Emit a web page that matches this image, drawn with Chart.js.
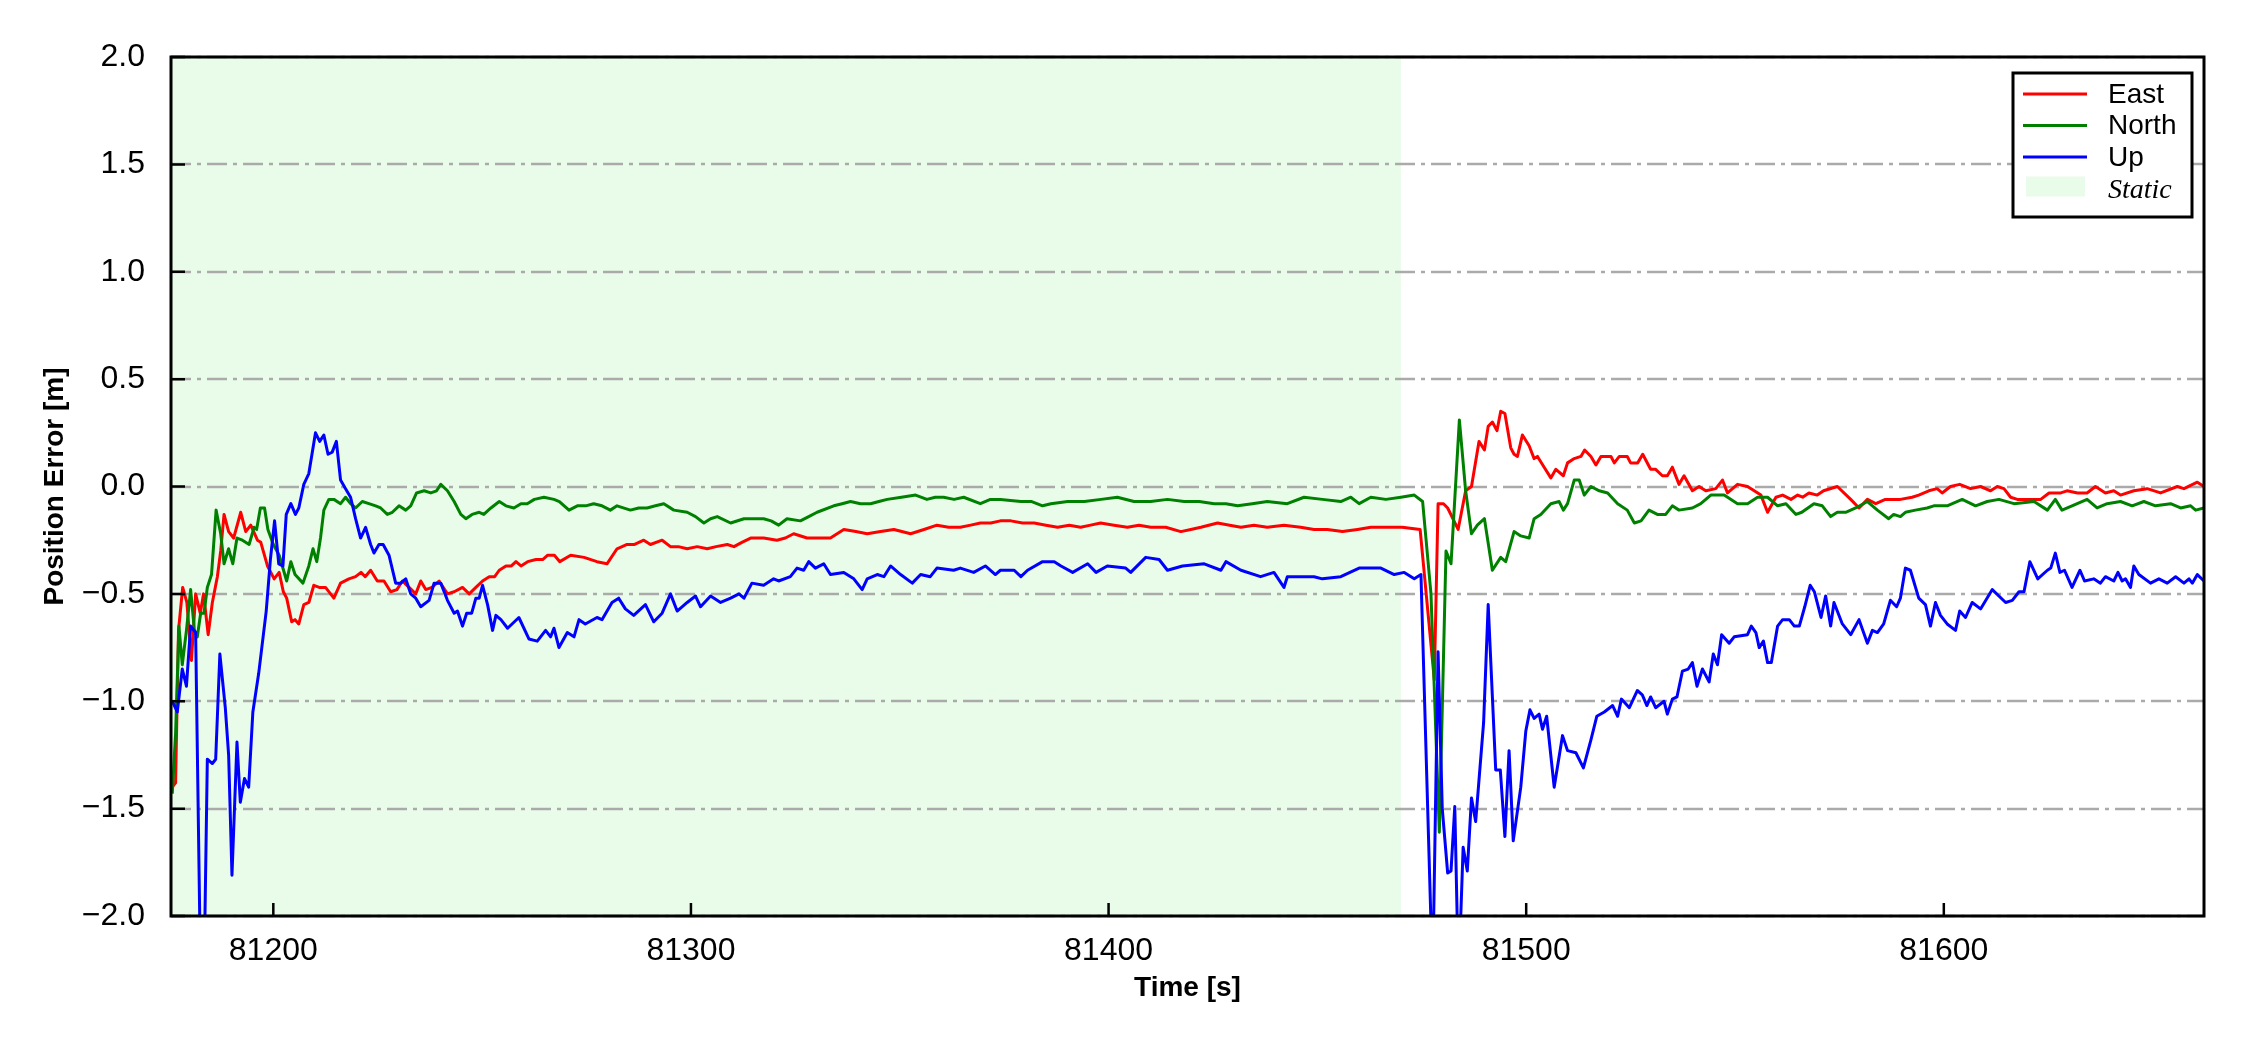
<!DOCTYPE html>
<html>
<head>
<meta charset="utf-8">
<script src="https://cdn.jsdelivr.net/npm/chart.js@4.4.0/dist/chart.umd.min.js"></script>
<style>
  html, body { margin: 0; padding: 0; background: #fff; }
  canvas { display: block; }
</style>
</head>
<body>
<canvas id="errorChart" width="2250" height="1050"></canvas>
<script>
// position error [m] vs time [s] as [time, error]
const eastError = [[81175.8,-1.40],[81176.6,-1.38],[81177.3,-0.67],[81178.3,-0.47],[81179.3,-0.54],[81180.4,-0.81],[81181.4,-0.50],[81182.5,-0.59],[81183.3,-0.50],[81184.4,-0.69],[81185.4,-0.54],[81186.6,-0.42],[81187.4,-0.30],[81188.2,-0.13],[81189.3,-0.21],[81190.5,-0.24],[81192.2,-0.12],[81193.4,-0.21],[81194.6,-0.18],[81196.2,-0.25],[81197.0,-0.26],[81198.6,-0.37],[81200.2,-0.43],[81201.4,-0.40],[81202.4,-0.49],[81203.2,-0.52],[81204.4,-0.63],[81205.2,-0.62],[81206.1,-0.64],[81207.3,-0.55],[81208.5,-0.54],[81209.7,-0.46],[81211.0,-0.47],[81212.5,-0.47],[81214.5,-0.52],[81216.1,-0.45],[81218.1,-0.43],[81219.7,-0.42],[81221.0,-0.40],[81222.0,-0.42],[81223.3,-0.39],[81224.9,-0.44],[81226.5,-0.44],[81228.1,-0.49],[81229.6,-0.48],[81230.9,-0.44],[81232.5,-0.47],[81234.1,-0.50],[81235.3,-0.44],[81236.5,-0.48],[81238.0,-0.47],[81239.7,-0.44],[81241.7,-0.50],[81243.3,-0.49],[81245.3,-0.47],[81246.9,-0.50],[81248.5,-0.47],[81250.1,-0.44],[81251.7,-0.42],[81253.0,-0.42],[81254.1,-0.39],[81255.7,-0.37],[81257.0,-0.37],[81258.1,-0.35],[81259.3,-0.37],[81260.9,-0.35],[81262.9,-0.34],[81264.5,-0.34],[81265.7,-0.32],[81267.3,-0.32],[81268.6,-0.35],[81271.2,-0.32],[81274.4,-0.33],[81277.5,-0.35],[81279.9,-0.36],[81282.3,-0.29],[81284.7,-0.27],[81286.5,-0.27],[81288.7,-0.25],[81290.3,-0.27],[81293.1,-0.25],[81295.1,-0.28],[81297.0,-0.28],[81299.1,-0.29],[81301.5,-0.28],[81303.9,-0.29],[81306.0,-0.28],[81308.7,-0.27],[81310.3,-0.28],[81312.2,-0.26],[81314.3,-0.24],[81317.4,-0.24],[81320.6,-0.25],[81322.6,-0.24],[81324.6,-0.22],[81327.8,-0.24],[81330.5,-0.24],[81333.4,-0.24],[81336.6,-0.20],[81339.5,-0.21],[81342.2,-0.22],[81345.4,-0.21],[81348.6,-0.20],[81352.6,-0.22],[81355.8,-0.20],[81358.9,-0.18],[81361.7,-0.19],[81364.5,-0.19],[81367.0,-0.18],[81369.3,-0.17],[81371.8,-0.17],[81374.1,-0.16],[81376.6,-0.16],[81379.4,-0.17],[81382.2,-0.17],[81385.0,-0.18],[81387.8,-0.19],[81390.6,-0.18],[81393.3,-0.19],[81395.7,-0.18],[81398.1,-0.17],[81401.3,-0.18],[81404.5,-0.19],[81407.3,-0.18],[81410.1,-0.19],[81413.7,-0.19],[81417.3,-0.21],[81419.7,-0.20],[81422.1,-0.19],[81426.1,-0.17],[81429.0,-0.18],[81431.7,-0.19],[81434.8,-0.18],[81438.0,-0.19],[81442.0,-0.18],[81446.0,-0.19],[81449.2,-0.20],[81452.4,-0.20],[81456.0,-0.21],[81459.6,-0.20],[81462.8,-0.19],[81466.0,-0.19],[81470.3,-0.19],[81474.6,-0.20],[81478.0,-0.90],[81478.9,-0.08],[81480.2,-0.08],[81481.2,-0.10],[81483.7,-0.20],[81485.5,-0.02],[81486.9,0.00],[81488.7,0.21],[81490.0,0.17],[81490.9,0.28],[81491.9,0.30],[81493.0,0.26],[81493.9,0.35],[81494.9,0.34],[81496.3,0.18],[81497.1,0.15],[81497.9,0.14],[81499.1,0.24],[81500.7,0.19],[81501.9,0.13],[81502.7,0.14],[81504.3,0.09],[81505.9,0.04],[81507.1,0.08],[81508.9,0.05],[81509.9,0.11],[81511.5,0.13],[81513.1,0.14],[81514.0,0.17],[81515.5,0.14],[81516.7,0.10],[81517.9,0.14],[81520.3,0.14],[81521.1,0.11],[81522.3,0.14],[81524.2,0.14],[81525.0,0.11],[81526.7,0.11],[81527.9,0.15],[81529.8,0.08],[81531.0,0.08],[81532.6,0.05],[81533.8,0.05],[81535.0,0.09],[81536.6,0.01],[81537.8,0.05],[81539.8,-0.02],[81541.4,0.00],[81543.0,-0.02],[81545.4,-0.01],[81547.0,0.03],[81548.2,-0.03],[81550.6,0.01],[81553.0,0.00],[81554.6,-0.02],[81556.2,-0.04],[81557.8,-0.12],[81559.8,-0.05],[81561.4,-0.04],[81563.4,-0.06],[81565.0,-0.04],[81566.2,-0.05],[81567.7,-0.03],[81569.7,-0.04],[81571.2,-0.02],[81574.5,0.00],[81577.7,-0.06],[81579.7,-0.10],[81581.7,-0.06],[81583.7,-0.08],[81586.0,-0.06],[81589.6,-0.06],[81592.4,-0.05],[81594.0,-0.04],[81596.4,-0.02],[81598.4,-0.01],[81599.6,-0.03],[81601.6,0.00],[81603.8,0.01],[81606.4,-0.01],[81608.8,0.00],[81611.2,-0.02],[81612.8,0.00],[81614.4,-0.01],[81616.0,-0.05],[81617.6,-0.06],[81620.8,-0.06],[81623.2,-0.06],[81625.2,-0.03],[81628.0,-0.03],[81629.5,-0.02],[81632.0,-0.03],[81634.3,-0.03],[81636.3,0.00],[81638.7,-0.03],[81640.7,-0.02],[81642.3,-0.04],[81645.5,-0.02],[81648.7,-0.01],[81651.9,-0.03],[81655.9,0.00],[81657.5,-0.01],[81660.7,0.02],[81662.3,0.00]];

const northError = [[81175.8,-1.43],[81176.6,-1.15],[81177.4,-0.65],[81178.2,-0.83],[81179.2,-0.67],[81180.2,-0.48],[81181.1,-0.67],[81181.8,-0.70],[81182.6,-0.59],[81183.4,-0.59],[81184.2,-0.47],[81185.2,-0.41],[81186.3,-0.11],[81187.4,-0.22],[81188.2,-0.36],[81189.3,-0.29],[81190.3,-0.36],[81191.3,-0.24],[81192.6,-0.25],[81194.2,-0.27],[81195.4,-0.19],[81196.0,-0.20],[81196.9,-0.10],[81197.9,-0.10],[81198.7,-0.20],[81200.0,-0.27],[81201.4,-0.32],[81203.2,-0.44],[81204.2,-0.35],[81205.2,-0.41],[81207.1,-0.45],[81208.5,-0.37],[81209.5,-0.29],[81210.4,-0.35],[81211.3,-0.24],[81212.1,-0.11],[81213.3,-0.06],[81214.5,-0.06],[81216.1,-0.08],[81217.3,-0.05],[81218.5,-0.08],[81219.7,-0.10],[81221.3,-0.07],[81222.9,-0.08],[81224.5,-0.09],[81225.7,-0.10],[81227.3,-0.13],[81228.5,-0.12],[81230.1,-0.09],[81231.7,-0.11],[81232.9,-0.09],[81234.3,-0.03],[81236.1,-0.02],[81237.7,-0.03],[81239.1,-0.02],[81240.1,0.01],[81241.7,-0.02],[81243.3,-0.07],[81244.9,-0.13],[81246.1,-0.15],[81247.6,-0.13],[81249.3,-0.12],[81250.4,-0.13],[81252.1,-0.10],[81254.1,-0.07],[81255.7,-0.09],[81257.6,-0.10],[81259.3,-0.08],[81260.8,-0.08],[81262.5,-0.06],[81264.8,-0.05],[81267.2,-0.06],[81268.5,-0.07],[81270.8,-0.11],[81272.8,-0.09],[81274.8,-0.09],[81276.7,-0.08],[81278.7,-0.09],[81280.7,-0.11],[81282.3,-0.09],[81285.5,-0.11],[81287.5,-0.10],[81289.5,-0.10],[81291.5,-0.09],[81293.5,-0.08],[81295.9,-0.11],[81299.1,-0.12],[81301.1,-0.14],[81303.1,-0.17],[81304.7,-0.15],[81306.3,-0.14],[81309.5,-0.17],[81312.7,-0.15],[81315.0,-0.15],[81317.4,-0.15],[81319.2,-0.16],[81321.0,-0.18],[81323.0,-0.15],[81326.2,-0.16],[81328.2,-0.14],[81330.2,-0.12],[81334.2,-0.09],[81336.2,-0.08],[81338.2,-0.07],[81340.6,-0.08],[81343.0,-0.08],[81345.0,-0.07],[81347.0,-0.06],[81350.4,-0.05],[81353.8,-0.04],[81356.5,-0.06],[81358.5,-0.05],[81360.5,-0.05],[81363.0,-0.06],[81365.3,-0.05],[81369.3,-0.08],[81371.7,-0.06],[81374.1,-0.06],[81379.0,-0.07],[81381.6,-0.07],[81384.2,-0.09],[81386.2,-0.08],[81390.2,-0.07],[81394.2,-0.07],[81398.2,-0.06],[81402.1,-0.05],[81406.1,-0.07],[81410.1,-0.07],[81414.1,-0.06],[81418.1,-0.07],[81421.7,-0.07],[81425.3,-0.08],[81428.1,-0.08],[81430.9,-0.09],[81434.4,-0.08],[81438.0,-0.07],[81442.8,-0.08],[81446.8,-0.05],[81451.2,-0.06],[81455.6,-0.07],[81458.0,-0.05],[81460.0,-0.08],[81462.8,-0.05],[81466.4,-0.06],[81470.0,-0.05],[81473.2,-0.04],[81475.2,-0.07],[81477.2,-0.50],[81479.2,-1.61],[81480.8,-0.30],[81482.0,-0.36],[81484.0,0.31],[81485.5,-0.02],[81486.9,-0.22],[81488.3,-0.18],[81490.0,-0.15],[81491.9,-0.39],[81493.9,-0.33],[81495.1,-0.35],[81497.1,-0.21],[81498.7,-0.23],[81500.7,-0.24],[81501.9,-0.15],[81503.5,-0.13],[81505.9,-0.08],[81507.9,-0.07],[81508.9,-0.11],[81509.9,-0.08],[81511.5,0.03],[81512.7,0.03],[81513.9,-0.04],[81515.5,0.00],[81517.5,-0.02],[81519.5,-0.03],[81521.9,-0.08],[81524.2,-0.11],[81525.9,-0.17],[81527.5,-0.16],[81529.4,-0.11],[81531.4,-0.13],[81533.4,-0.13],[81535.0,-0.09],[81536.6,-0.11],[81539.8,-0.10],[81541.8,-0.08],[81544.2,-0.04],[81547.4,-0.04],[81550.6,-0.08],[81553.0,-0.08],[81555.4,-0.05],[81557.8,-0.05],[81560.2,-0.09],[81562.2,-0.08],[81564.6,-0.13],[81566.0,-0.12],[81568.9,-0.08],[81570.9,-0.09],[81572.9,-0.14],[81574.5,-0.12],[81576.5,-0.12],[81578.9,-0.10],[81581.7,-0.07],[81584.1,-0.11],[81586.8,-0.15],[81588.0,-0.13],[81589.6,-0.14],[81590.8,-0.12],[81593.2,-0.11],[81596.0,-0.10],[81597.6,-0.09],[81600.8,-0.09],[81604.4,-0.06],[81607.6,-0.09],[81610.4,-0.07],[81613.2,-0.06],[81616.8,-0.08],[81621.6,-0.07],[81624.8,-0.11],[81626.7,-0.06],[81628.3,-0.11],[81630.7,-0.09],[81634.3,-0.06],[81636.7,-0.10],[81639.1,-0.08],[81642.3,-0.07],[81645.1,-0.09],[81647.9,-0.07],[81650.7,-0.09],[81654.3,-0.08],[81656.7,-0.10],[81659.1,-0.09],[81660.3,-0.11],[81662.3,-0.10]];

const upError = [[81175.8,-1.00],[81177.0,-1.05],[81178.2,-0.85],[81179.2,-0.93],[81180.2,-0.65],[81181.4,-0.68],[81182.6,-2.30],[81183.4,-2.30],[81184.2,-1.27],[81185.4,-1.29],[81186.2,-1.27],[81187.2,-0.78],[81188.5,-1.03],[81189.3,-1.25],[81190.1,-1.81],[81191.3,-1.19],[81192.1,-1.47],[81193.1,-1.36],[81194.1,-1.40],[81195.1,-1.05],[81196.5,-0.87],[81198.3,-0.58],[81199.3,-0.34],[81200.3,-0.16],[81201.3,-0.36],[81202.3,-0.37],[81203.1,-0.13],[81204.2,-0.08],[81205.3,-0.13],[81206.1,-0.10],[81207.3,0.01],[81208.5,0.06],[81210.1,0.25],[81211.1,0.21],[81212.1,0.24],[81213.1,0.15],[81214.1,0.16],[81215.1,0.21],[81216.1,0.03],[81217.3,-0.01],[81218.5,-0.05],[81219.7,-0.15],[81220.9,-0.24],[81222.1,-0.19],[81223.3,-0.27],[81224.1,-0.31],[81225.3,-0.27],[81226.3,-0.27],[81227.7,-0.32],[81229.3,-0.45],[81230.5,-0.45],[81231.7,-0.43],[81232.9,-0.50],[81234.1,-0.52],[81235.3,-0.56],[81237.3,-0.53],[81238.5,-0.45],[81240.1,-0.45],[81241.7,-0.53],[81243.3,-0.59],[81244.1,-0.58],[81245.3,-0.65],[81246.3,-0.59],[81247.5,-0.59],[81248.5,-0.52],[81249.3,-0.52],[81250.1,-0.46],[81251.3,-0.55],[81252.5,-0.67],[81253.3,-0.60],[81254.5,-0.62],[81256.1,-0.66],[81258.8,-0.61],[81261.2,-0.71],[81263.2,-0.72],[81265.2,-0.67],[81266.4,-0.70],[81267.2,-0.66],[81268.4,-0.75],[81270.4,-0.68],[81272.0,-0.70],[81273.2,-0.62],[81274.7,-0.64],[81277.5,-0.61],[81278.7,-0.62],[81281.1,-0.54],[81282.7,-0.52],[81284.3,-0.57],[81286.3,-0.60],[81289.1,-0.55],[81291.1,-0.63],[81293.1,-0.59],[81295.1,-0.50],[81296.7,-0.58],[81299.1,-0.54],[81301.1,-0.51],[81302.3,-0.56],[81304.7,-0.51],[81307.1,-0.54],[81309.5,-0.52],[81311.5,-0.50],[81312.7,-0.52],[81314.6,-0.45],[81317.4,-0.46],[81319.8,-0.43],[81321.0,-0.44],[81323.8,-0.42],[81325.4,-0.38],[81327.0,-0.39],[81328.2,-0.35],[81329.8,-0.38],[81331.8,-0.36],[81333.4,-0.41],[81336.6,-0.40],[81339.0,-0.43],[81341.0,-0.48],[81342.2,-0.43],[81344.6,-0.41],[81346.2,-0.42],[81347.8,-0.37],[81350.2,-0.41],[81353.0,-0.45],[81355.0,-0.41],[81357.3,-0.42],[81358.9,-0.38],[81362.9,-0.39],[81364.5,-0.38],[81367.7,-0.40],[81370.5,-0.37],[81372.9,-0.41],[81374.1,-0.39],[81377.4,-0.39],[81379.0,-0.42],[81380.6,-0.39],[81384.2,-0.35],[81387.0,-0.35],[81388.6,-0.37],[81391.4,-0.40],[81395.0,-0.36],[81397.0,-0.40],[81399.7,-0.37],[81404.1,-0.38],[81405.3,-0.40],[81408.9,-0.33],[81412.1,-0.34],[81414.1,-0.39],[81417.7,-0.37],[81422.9,-0.36],[81426.9,-0.39],[81428.1,-0.35],[81431.7,-0.39],[81436.4,-0.42],[81439.6,-0.40],[81442.0,-0.47],[81442.8,-0.42],[81449.2,-0.42],[81451.2,-0.43],[81455.6,-0.42],[81460.0,-0.38],[81465.2,-0.38],[81468.4,-0.41],[81470.8,-0.40],[81473.2,-0.43],[81474.8,-0.41],[81477.6,-2.30],[81478.9,-0.77],[81479.9,-1.50],[81481.2,-1.80],[81482.0,-1.79],[81482.9,-1.49],[81483.8,-2.30],[81484.9,-1.68],[81485.9,-1.79],[81486.9,-1.45],[81487.9,-1.56],[81489.8,-1.10],[81490.9,-0.55],[81492.7,-1.32],[81493.8,-1.32],[81494.9,-1.63],[81495.9,-1.23],[81496.9,-1.65],[81498.7,-1.40],[81499.9,-1.14],[81500.9,-1.04],[81501.9,-1.08],[81503.1,-1.06],[81503.9,-1.13],[81504.9,-1.07],[81506.7,-1.40],[81508.7,-1.16],[81509.9,-1.23],[81511.9,-1.24],[81513.7,-1.31],[81515.5,-1.18],[81516.9,-1.07],[81518.7,-1.05],[81520.7,-1.02],[81521.9,-1.07],[81522.8,-0.99],[81524.7,-1.03],[81526.6,-0.95],[81527.8,-0.97],[81528.9,-1.02],[81529.8,-0.98],[81531.0,-1.03],[81533.0,-1.00],[81533.8,-1.06],[81535.0,-0.99],[81536.1,-0.98],[81537.4,-0.86],[81538.8,-0.85],[81539.8,-0.82],[81540.9,-0.93],[81542.2,-0.85],[81543.8,-0.91],[81544.8,-0.78],[81545.8,-0.83],[81546.8,-0.69],[81548.6,-0.73],[81549.8,-0.70],[81553.0,-0.69],[81553.9,-0.65],[81555.0,-0.68],[81555.8,-0.75],[81556.8,-0.72],[81557.8,-0.82],[81558.7,-0.82],[81560.2,-0.65],[81561.4,-0.62],[81563.0,-0.62],[81564.2,-0.65],[81565.4,-0.65],[81566.7,-0.56],[81568.0,-0.46],[81569.0,-0.49],[81570.6,-0.61],[81571.7,-0.51],[81572.9,-0.65],[81573.7,-0.54],[81575.7,-0.64],[81577.7,-0.69],[81579.7,-0.62],[81581.7,-0.73],[81582.9,-0.67],[81584.1,-0.68],[81585.6,-0.64],[81587.2,-0.53],[81588.7,-0.56],[81589.6,-0.52],[81590.8,-0.38],[81592.0,-0.39],[81594.0,-0.52],[81595.6,-0.55],[81596.8,-0.65],[81598.0,-0.54],[81599.2,-0.60],[81600.8,-0.64],[81602.8,-0.67],[81603.8,-0.58],[81605.2,-0.61],[81606.8,-0.54],[81608.8,-0.57],[81611.6,-0.48],[81614.8,-0.54],[81616.4,-0.53],[81618.0,-0.49],[81619.2,-0.49],[81620.6,-0.35],[81622.5,-0.43],[81624.8,-0.39],[81625.6,-0.38],[81626.7,-0.31],[81627.8,-0.40],[81628.9,-0.39],[81630.7,-0.47],[81632.6,-0.39],[81633.7,-0.44],[81635.9,-0.43],[81637.5,-0.45],[81638.7,-0.42],[81640.7,-0.44],[81641.7,-0.40],[81642.7,-0.44],[81643.5,-0.43],[81644.7,-0.47],[81645.5,-0.37],[81646.7,-0.41],[81649.5,-0.45],[81651.5,-0.43],[81653.5,-0.45],[81655.5,-0.42],[81657.5,-0.45],[81658.7,-0.43],[81659.5,-0.45],[81660.7,-0.41],[81662.3,-0.44]];

const timeRange = [81175.5, 81662.3];
const staticSpan = [81175.5, 81470];
const xTicks = [81200, 81300, 81400, 81500, 81600];
const yTicks = [-2.0, -1.5, -1.0, -0.5, 0.0, 0.5, 1.0, 1.5, 2.0];
const seriesNames = ['East', 'North', 'Up'];
const seriesColors = ['#ff0000', '#008000', '#0000ff'];

const tickFont = { family: "'Liberation Sans', Arial, sans-serif", size: 32 };

const toPoints = arr => arr.map(p => ({ x: p[0], y: p[1] }));

// static shading, dash-dot grid, frame, inward ticks, titles and legend, drawn the matplotlib way
const mplLook = {
    id: 'mplLook',
    beforeDatasetsDraw(chart) {
        const { ctx, chartArea: a, scales } = chart;
        ctx.save();
        const sx0 = Math.max(a.left, scales.x.getPixelForValue(staticSpan[0]));
        const sx1 = scales.x.getPixelForValue(staticSpan[1]);
        ctx.fillStyle = '#e9fce9';
        ctx.fillRect(sx0, a.top, sx1 - sx0, a.bottom - a.top);

        ctx.strokeStyle = '#aaaaaa';
        ctx.lineWidth = 2.5;
        ctx.setLineDash([20, 6, 4, 6]);
        yTicks.forEach(v => {
            const py = Math.round(scales.y.getPixelForValue(v));
            ctx.beginPath();
            ctx.moveTo(a.left, py);
            ctx.lineTo(a.right, py);
            ctx.stroke();
        });
        ctx.restore();
    },
    afterDatasetsDraw(chart) {
        const { ctx, chartArea: a, scales } = chart;
        ctx.save();
        ctx.strokeStyle = '#000';
        ctx.lineWidth = 2.5;
        ctx.beginPath();
        xTicks.forEach(v => {
            const px = scales.x.getPixelForValue(v);
            ctx.moveTo(px, a.bottom);
            ctx.lineTo(px, a.bottom - 13);
        });
        yTicks.forEach(v => {
            const py = scales.y.getPixelForValue(v);
            ctx.moveTo(a.left, py);
            ctx.lineTo(a.left + 14, py);
        });
        ctx.stroke();

        ctx.lineWidth = 3;
        ctx.strokeRect(a.left, a.top, a.right - a.left, a.bottom - a.top);

        // axis titles
        ctx.fillStyle = '#000';
        ctx.font = "bold 28px 'Liberation Sans', Arial, sans-serif";
        ctx.textAlign = 'center';
        ctx.textBaseline = 'middle';
        ctx.fillText('Time [s]', (a.left + a.right) / 2, a.bottom + 72);
        ctx.translate(a.left - 116, (a.top + a.bottom) / 2);
        ctx.rotate(-Math.PI / 2);
        ctx.fillText('Position Error [m]', 0, 0);
        ctx.restore();
    },
    afterDraw(chart) {
        const { ctx, chartArea: a } = chart;
        const boxW = 179, boxH = 144;
        const bx = a.right - 12 - boxW, by = a.top + 16;
        ctx.save();
        ctx.fillStyle = '#fff';
        ctx.fillRect(bx, by, boxW, boxH);
        ctx.strokeStyle = '#000';
        ctx.lineWidth = 3;
        ctx.strokeRect(bx, by, boxW, boxH);

        ctx.textAlign = 'left';
        ctx.textBaseline = 'middle';
        const rowY = i => by + 21 + i * 31.5;
        seriesNames.forEach((name, i) => {
            ctx.strokeStyle = seriesColors[i];
            ctx.lineWidth = 3;
            ctx.beginPath();
            ctx.moveTo(bx + 10, rowY(i));
            ctx.lineTo(bx + 74, rowY(i));
            ctx.stroke();
            ctx.fillStyle = '#000';
            ctx.font = "28px 'Liberation Sans', Arial, sans-serif";
            ctx.fillText(name, bx + 95, rowY(i) + 1);
        });
        ctx.fillStyle = '#e9fce9';
        ctx.fillRect(bx + 13, rowY(3) - 12, 59, 20);
        ctx.fillStyle = '#000';
        ctx.font = "italic 28px 'Liberation Serif', 'Times New Roman', serif";
        ctx.fillText('Static', bx + 95, rowY(3) + 2);
        ctx.restore();
    }
};

const ctx = document.getElementById('errorChart').getContext('2d');
const errorChart = new Chart(ctx, {
    type: 'line',
    data: {
        datasets: [eastError, northError, upError].map((arr, i) => ({
            label: seriesNames[i],
            data: toPoints(arr),
            borderColor: seriesColors[i],
            backgroundColor: seriesColors[i],
            borderWidth: 3,
            pointRadius: 0,
            tension: 0,
            fill: false,
            borderJoinStyle: 'round',
            order: 2 - i
        }))
    },
    options: {
        responsive: false,
        animation: false,
        devicePixelRatio: 1,
        layout: {
            padding: { top: 57, right: 46, bottom: 0, left: 0 }
        },
        plugins: {
            legend: { display: false },
            tooltip: { enabled: false }
        },
        scales: {
            x: {
                type: 'linear',
                min: timeRange[0],
                max: timeRange[1],
                grid: { display: false },
                border: { display: false },
                afterBuildTicks: axis => { axis.ticks = xTicks.map(v => ({ value: v })); },
                afterFit: axis => { axis.height = 134; },
                ticks: {
                    color: '#000',
                    font: tickFont,
                    padding: 8,
                    maxRotation: 0,
                    autoSkip: false,
                    callback: v => String(v)
                }
            },
            y: {
                type: 'linear',
                min: -2,
                max: 2,
                grid: { display: false },
                border: { display: false },
                afterBuildTicks: axis => { axis.ticks = yTicks.map(v => ({ value: v })); },
                afterFit: axis => { axis.width = 171; },
                ticks: {
                    color: '#000',
                    font: tickFont,
                    padding: 18,
                    callback: v => v.toFixed(1).replace('-', '\u2212')
                }
            }
        }
    },
    plugins: [mplLook]
});
</script>
</body>
</html>
